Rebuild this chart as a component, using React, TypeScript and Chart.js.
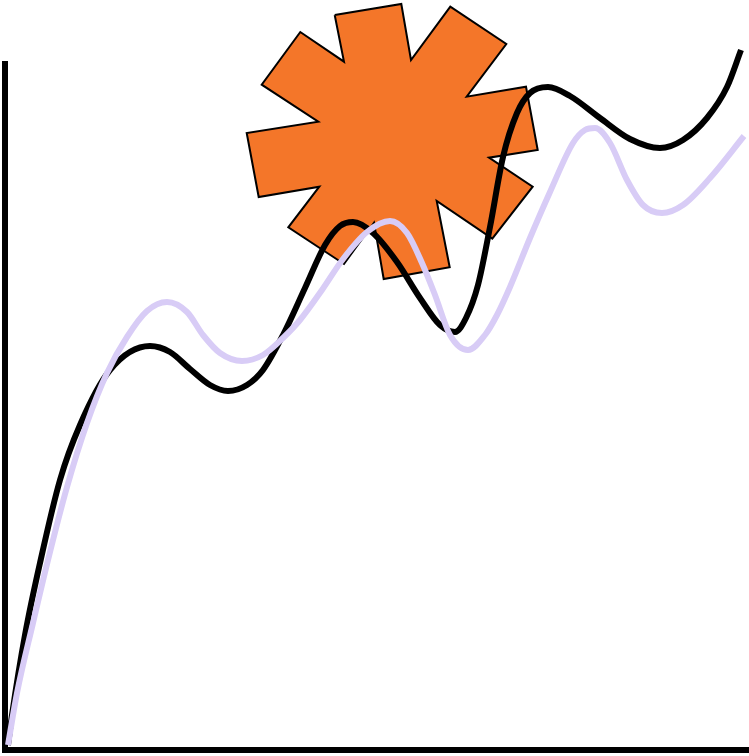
import { useEffect, useRef } from 'react';
import { Chart, registerables } from 'chart.js';

Chart.register(...registerables);

// values
const blackX = [3, 7, 20, 35, 55, 75, 105, 145, 165, 185, 205, 223, 242, 258, 278, 300, 320, 335, 348, 368, 392, 415, 435, 450, 461, 473, 485, 498, 512, 525, 543, 565, 595, 625, 655, 678, 702, 722, 736];
const blackY = [5, 35, 115, 187, 270, 325, 380, 404, 398, 381, 365, 359, 365, 380, 415, 462, 505, 524, 528, 517, 488, 452, 425, 418, 432, 465, 523, 593, 637, 657, 663, 654, 632, 611, 602, 610, 632, 663, 700];

const lilacX = [3, 12, 28, 43, 62, 82, 102, 122, 142, 162, 182, 198, 215, 237, 258, 278, 295, 317, 338, 362, 385, 402, 417, 430, 445, 463, 480, 492, 505, 525, 545, 568, 580, 590, 605, 622, 638, 657, 678, 705, 739];
const lilacY = [5, 57, 127, 190, 263, 327, 377, 413, 439, 448, 438, 415, 397, 389, 395, 412, 430, 460, 491, 518, 529, 517, 487, 455, 415, 400, 415, 435, 463, 512, 558, 607, 620, 622, 607, 570, 545, 537, 545, 572, 614];

// outline of the gear, last point closes it
const gearX = [329.7, 396.3, 406, 445.3, 501.3, 461.7, 521, 532.7, 484, 527.7, 487.3, 431.7, 444.7, 378.7, 369, 339, 283.3, 314.3, 253.7, 241.7, 313.3, 256.7, 295.3, 339, 329.7];
const gearY = [735, 746, 690, 743.3, 706, 653.3, 663.3, 600, 592.3, 563.3, 511.3, 549, 482.7, 471, 527.3, 486, 522.7, 563.3, 553, 617, 628.3, 665.3, 718, 688.3, 735];

const axisXLine = [0, 742];
const axisYLine = [0, 686];

const toPoints = (xs: number[], ys: number[]) => xs.map((x, i) => ({ x, y: ys[i] }));

export default function App() {
  const chartRef = useRef<HTMLCanvasElement>(null);

  useEffect(() => {
    if (!chartRef.current) return;
    document.body.style.margin = '0';

    const curve = { showLine: true, pointRadius: 0, borderWidth: 6, cubicInterpolationMode: 'monotone' as const, clip: false as const };
    const axis = { showLine: true, pointRadius: 0, borderWidth: 6, borderColor: '#000', borderCapStyle: 'square' as const, clip: false as const };

    const chart = new Chart(chartRef.current, {
      type: 'scatter',
      data: {
        // first dataset is drawn on top
        datasets: [
          { ...curve, data: toPoints(lilacX, lilacY), borderColor: '#d8ccf6' },
          { ...curve, data: toPoints(blackX, blackY), borderColor: '#000' },
          { ...axis, data: toPoints([0, 0], axisYLine) },
          { ...axis, data: toPoints(axisXLine, [0, 0]) },
          {
            data: toPoints(gearX, gearY),
            showLine: true,
            pointRadius: 0,
            tension: 0,
            fill: 'shape',
            backgroundColor: '#f47629',
            borderColor: '#000',
            borderWidth: 2,
            borderJoinStyle: 'miter',
            clip: false,
          },
        ],
      },
      options: {
        responsive: false,
        animation: false,
        layout: { padding: { left: 5, right: 2, top: 0, bottom: 6 } },
        plugins: { legend: { display: false }, tooltip: { enabled: false } },
        scales: {
          x: { type: 'linear', min: 0, max: 742, display: false },
          y: { type: 'linear', min: 0, max: 750, display: false },
        },
      },
    });

    return () => {
      chart.destroy();
    };
  }, []);

  return <canvas ref={chartRef} width={749} height={756} style={{ display: 'block' }} />;
}
